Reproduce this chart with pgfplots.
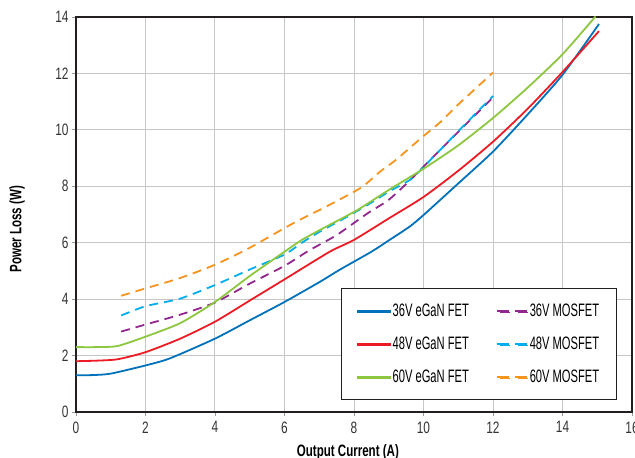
\documentclass[border=0pt]{standalone}
\usepackage{pgfplots}
\pgfplotsset{compat=1.18}
\usepackage{fontspec}
\setmainfont{Liberation Sans}[FakeStretch=0.72]
\newfontfamily\legfont{Liberation Sans}[FakeStretch=0.62]
\newfontfamily\labfont{Liberation Sans}[FakeStretch=0.7]
\definecolor{cblue}{RGB}{0,114,188}
\definecolor{cred}{RGB}{237,28,36}
\definecolor{cgreen}{RGB}{141,198,63}
\definecolor{cpurple}{RGB}{146,39,143}
\definecolor{ccyan}{RGB}{0,174,239}
\definecolor{corange}{RGB}{247,148,29}
\definecolor{cframe}{RGB}{35,31,32}
\pgfplotsset{
  solidimg/.style={legend image code/.code={\fill[#1] (0pt,-1pt) rectangle (32pt,1pt);}},
  dashimg/.style={legend image code/.code={\fill[#1] (0pt,-1pt) rectangle (11pt,1pt); \fill[#1] (18pt,-1pt) rectangle (29pt,1pt);}},
}
\begin{document}
\begin{tikzpicture}[x=1pt,y=1pt]
\begin{axis}[
  at={(0pt,0pt)}, anchor=south west,
  scale only axis, width=556pt, height=395pt,
  xmin=0, xmax=16, ymin=0, ymax=14,
  xtick={0,2,...,16}, ytick={0,2,...,14},
  grid=major,
  major grid style={draw=black!22, line width=1pt},
  axis line style={draw=cframe, line width=1.8pt},
  tick align=outside, major tick length=4pt,
  tick style={draw=black!40, line width=0.8pt},
  xtick pos=bottom, ytick pos=left,
  /pgf/number format/assume math mode=true,
  ticklabel style={font=\fontsize{16.5}{18}\selectfont, text=black!80},
  xticklabel style={yshift=-2pt},
  xlabel={\labfont\bfseries Output Current (A)},
  ylabel={\labfont\bfseries Power Loss (W)},
  label style={font=\fontsize{16.5}{18}\selectfont},
  xlabel style={at={(axis description cs:0.489,-0.101)}, anchor=center},
  ylabel style={at={(axis description cs:-0.106,0.463)}, anchor=center},
  legend columns=2,
  legend style={at={(axis cs:15.56,4.38)}, anchor=north east,
    draw=cframe, line width=1pt, fill=white,
    font=\legfont\fontsize{18}{20}\selectfont,
    inner xsep=15pt, inner ysep=6pt,
    nodes={fill=none, text height=13pt, text depth=3pt, inner ysep=8.5pt},
    /tikz/every even column/.append style={column sep=26pt}},
  every axis plot/.append style={line width=1.8pt, smooth, tension=0.4},
]
\addplot[cblue, solidimg=cblue] coordinates {(0,1.3) (0.5,1.31) (1,1.36) (2,1.65) (2.7,1.9) (4,2.6) (5,3.25) (6,3.9) (7,4.6) (7.6,5.05) (8.5,5.68) (9,6.08) (9.6,6.57) (10,6.98) (11,8.1) (12,9.23) (13,10.55) (14,11.95) (15.05,13.75)};
\addlegendentry{36V eGaN FET}
\addplot[cpurple, dash pattern=on 9pt off 6pt, dashimg=cpurple] coordinates {(1.3,2.85) (2,3.1) (3,3.45) (4,3.88) (5,4.55) (6,5.18) (6.7,5.72) (7.5,6.27) (8.4,7.05) (9,7.52) (9.6,8.2) (10,8.7) (11,9.93) (12,11.15)};
\addlegendentry{36V MOSFET}
\addplot[cred, solidimg=cred] coordinates {(0,1.8) (0.6,1.82) (1.2,1.87) (2,2.12) (3,2.6) (4,3.2) (5,3.95) (6,4.7) (7.3,5.68) (8,6.1) (9,6.86) (10,7.62) (11,8.55) (12,9.58) (13,10.75) (14,12.05) (15.05,13.5)};
\addlegendentry{48V eGaN FET}
\addplot[ccyan, dash pattern=on 9pt off 6pt, dashimg=ccyan] coordinates {(1.3,3.42) (2,3.75) (3,4.02) (4,4.5) (5,5.05) (6,5.58) (6.5,6.0) (7,6.38) (7.8,6.92) (8.5,7.42) (9,7.81) (9.6,8.22) (10,8.68) (11,9.95) (12,11.2)};
\addlegendentry{48V MOSFET}
\addplot[cgreen, solidimg=cgreen] coordinates {(0,2.3) (0.6,2.3) (1.2,2.34) (2,2.67) (3,3.15) (4,3.9) (5,4.82) (6,5.68) (6.5,6.1) (7.2,6.57) (8.1,7.16) (9,7.87) (10,8.62) (11,9.45) (12,10.42) (13,11.5) (14,12.68) (14.95,14.02)};
\addlegendentry{60V eGaN FET}
\addplot[corange, dash pattern=on 9pt off 6pt, dashimg=corange] coordinates {(1.3,4.12) (2,4.38) (3,4.75) (4,5.22) (5,5.82) (6.25,6.69) (7.2,7.28) (8.2,7.95) (8.75,8.52) (9.2,8.93) (10,9.78) (10.5,10.29) (11,10.9) (12,12.03)};
\addlegendentry{60V MOSFET}
\end{axis}
\pgfresetboundingbox
\clip (-76pt,-46pt) rectangle (559pt,412pt);
\useasboundingbox (-76pt,-46pt) rectangle (559pt,412pt);
\end{tikzpicture}
\end{document}
